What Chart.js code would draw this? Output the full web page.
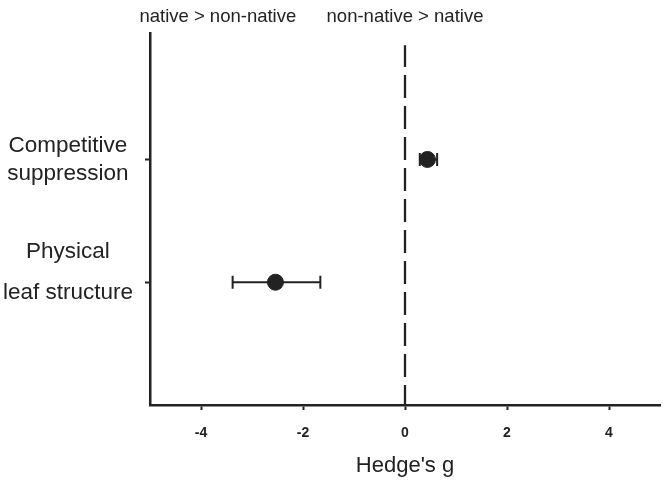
<!DOCTYPE html>
<html lang="en">
<head>
  <meta charset="UTF-8" />
  <title>Hedge's g</title>
  <script src="https://cdn.jsdelivr.net/npm/chart.js"></script>
  <style>
    body { margin: 0; background: #ffffff; }
    canvas { display: block; }
  </style>
</head>
<body>
  <canvas id="chart" width="664" height="483"></canvas>

  <script>
    // categories, bottom to top
    const categories = [['Physical', '', 'leaf structure', ''], ['Competitive', 'suppression']];
    const effect = [-2.54, 0.44];
    const lower = [-3.38, 0.29];
    const upper = [-1.66, 0.63];
    const xTicks = [-4, -2, 0, 2, 4];
    const headers = ['native > non-native', 'non-native > native'];

    const ink = '#222222';
    const fam = '"Liberation Sans", Arial, sans-serif';

    const points = effect.map((v, i) => ({ x: v, y: i + 1 }));

    const errorBars = {
      id: 'errorBars',
      beforeDatasetsDraw(chart) {
        const { ctx, scales: { x, y } } = chart;
        ctx.save();
        ctx.strokeStyle = ink;
        ctx.lineWidth = 2;
        effect.forEach((v, i) => {
          const py = y.getPixelForValue(i + 1);
          const x1 = x.getPixelForValue(lower[i]);
          const x2 = x.getPixelForValue(upper[i]);
          ctx.beginPath();
          ctx.moveTo(x1, py); ctx.lineTo(x2, py);
          ctx.moveTo(x1, py - 6.5); ctx.lineTo(x1, py + 6.5);
          ctx.moveTo(x2, py - 6.5); ctx.lineTo(x2, py + 6.5);
          ctx.stroke();
        });
        ctx.restore();
      }
    };

    // labels above the plot, one each side of zero
    const headerText = {
      id: 'headerText',
      afterDraw(chart) {
        const { ctx, scales: { x } } = chart;
        const at = [-3.67, 0.0];
        ctx.save();
        ctx.fillStyle = ink;
        ctx.font = '18.5px ' + fam;
        ctx.textAlign = 'center';
        ctx.textBaseline = 'alphabetic';
        headers.forEach((t, i) => ctx.fillText(t, x.getPixelForValue(at[i]), 22));
        ctx.restore();
      }
    };

    new Chart(document.getElementById('chart'), {
      type: 'scatter',
      data: {
        datasets: [
          {
            type: 'line',
            data: [{ x: 0, y: 0 }, { x: 0, y: 2.93 }],
            borderColor: ink,
            borderWidth: 2.3,
            borderDash: [23, 8],
            borderDashOffset: 3,
            pointRadius: 0,
            order: 2
          },
          {
            data: points,
            backgroundColor: ink,
            borderColor: ink,
            pointRadius: 8,
            pointHoverRadius: 8,
            order: 1
          }
        ]
      },
      options: {
        responsive: false,
        animation: false,
        layout: { autoPadding: false, padding: { top: 33, right: 4, left: 0, bottom: 0 } },
        plugins: { legend: { display: false }, tooltip: { enabled: false } },
        scales: {
          x: {
            type: 'linear',
            min: -5,
            max: 5,
            afterBuildTicks: s => { s.ticks = xTicks.map(v => ({ value: v })); },
            afterFit: s => { s.height = 78; s.paddingLeft = 0; s.paddingRight = 0; },
            border: { color: ink, width: 2.5 },
            grid: { drawOnChartArea: false, tickLength: 5, color: ink, tickWidth: 2 },
            ticks: {
              color: ink,
              padding: 15,
              font: { family: fam, size: 14, weight: 'bold' }
            },
            title: {
              display: true,
              text: "Hedge's g",
              color: ink,
              padding: { top: 0, bottom: 4 },
              font: { family: fam, size: 22, lineHeight: 1.2 }
            }
          },
          y: {
            type: 'linear',
            min: 0,
            max: 3.03,
            afterBuildTicks: s => { s.ticks = categories.map((c, i) => ({ value: i + 1 })); },
            afterFit: s => { s.width = 150; s.paddingTop = 0; s.paddingBottom = 0; },
            border: { color: ink, width: 2.5 },
            grid: { drawOnChartArea: false, tickLength: 5, color: ink, tickWidth: 2 },
            ticks: {
              color: ink,
              padding: 12,
              crossAlign: 'center',
              callback: v => categories[v - 1],
              font: c => ({
                family: fam,
                size: 22.5,
                lineHeight: c.tick && c.tick.value === 1 ? 0.9 : 1.25
              })
            }
          }
        }
      },
      plugins: [errorBars, headerText]
    });
  </script>
</body>
</html>
